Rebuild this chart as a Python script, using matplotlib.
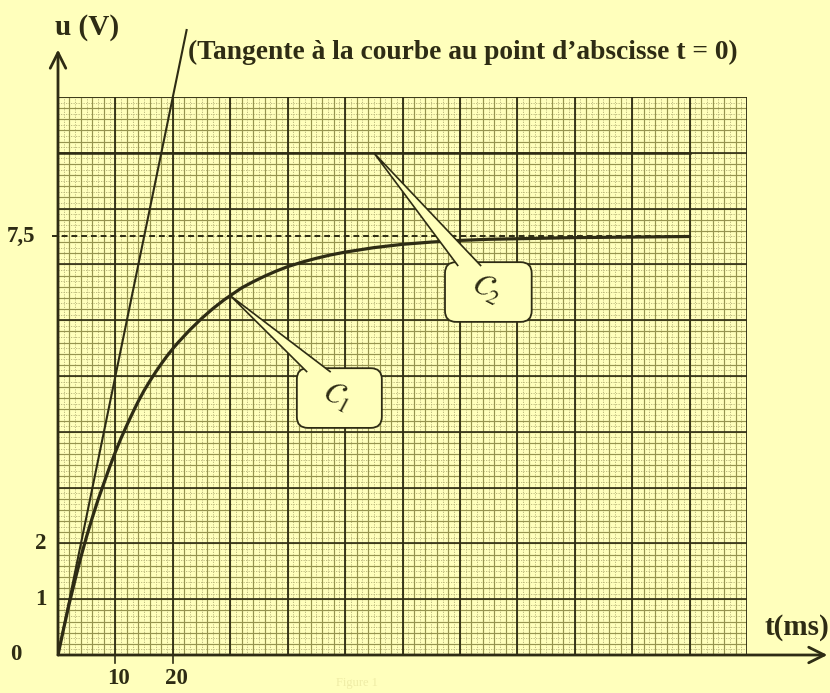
import numpy as np
import matplotlib
matplotlib.use('Agg')
import matplotlib.pyplot as plt
from matplotlib.patches import FancyBboxPatch, Polygon

# couleurs du papier millimétré
fond = '#ffffbc'
encre = '#2e2c14'
trait_fin = '#96944f'
pointille = '#b6b377'

# courbe C1 : t en ms, u en V
t_c1 = [0, 1, 2, 3, 4, 5, 6, 7, 8, 9, 10, 11, 12, 13, 14, 15, 16, 17, 18,
        19, 20, 21, 22, 23, 24, 25, 26, 27, 28, 29, 30, 32, 34, 36, 38, 40,
        42.5, 45, 47.5, 50, 52.5, 55, 57.5, 60, 65, 70, 75, 80, 90, 100, 110]
u_c1 = [0, 0.48, 0.94, 1.36, 1.76, 2.13, 2.47, 2.79, 3.08, 3.37, 3.64, 3.89,
        4.12, 4.34, 4.55, 4.74, 4.91, 5.07, 5.22, 5.36, 5.49, 5.61, 5.72,
        5.83, 5.93, 6.03, 6.12, 6.21, 6.29, 6.37, 6.44, 6.58, 6.69, 6.79,
        6.88, 6.96, 7.04, 7.11, 7.17, 7.22, 7.26, 7.30, 7.33, 7.36, 7.40,
        7.43, 7.45, 7.46, 7.48, 7.49, 7.50]

# droite C2
t_c2 = [0, 110]
u_c2 = [9, 9]

# tangente à l'origine
t_tan = [0, 22.4]
u_tan = [0, 11.2]

# asymptote en pointillés
t_asym = [-1, 110]
u_asym = [7.5, 7.5]

y_ticks = [0, 1, 2, 7.5]
y_labels = ['0', '1', '2', '7,5']
x_ticks = [10, 20]
x_labels = ['10', '20']

fig = plt.figure(figsize=(8.3, 6.93), dpi=100, facecolor=fond)
ax = fig.add_axes([58 / 830, 38 / 693, 689 / 830, 558 / 693])
ax.set_facecolor(fond)
ax.set_xlim(0, 120)
ax.set_ylim(0, 10)

plt.rcParams['mathtext.fontset'] = 'stix'
serif = ['Liberation Serif', 'DejaVu Serif']

# quadrillage : traits pointillés, fins et gros
for t in np.arange(1, 120, 2):
    ax.axvline(t, color=pointille, lw=0.6, ls=(0, (1.5, 1.5)), zorder=1)
for u in np.arange(0.1, 10, 0.2):
    ax.axhline(u, color=pointille, lw=0.6, ls=(0, (1.5, 1.5)), zorder=1)
for t in np.arange(2, 121, 2):
    ax.axvline(t, color=trait_fin, lw=0.85, zorder=1)
for u in np.arange(0.2, 10.01, 0.2):
    ax.axhline(u, color=trait_fin, lw=0.85, zorder=1)
for t in np.arange(10, 121, 10):
    ax.axvline(t, color=encre, lw=1.3, zorder=1)
for u in np.arange(1, 10.01, 1):
    ax.axhline(u, color=encre, lw=1.2, zorder=1)

for s in ax.spines.values():
    s.set_visible(False)

# courbes
ax.plot(t_asym, u_asym, color=encre, lw=1.4, ls=(0, (3, 2)), zorder=3, clip_on=False)
ax.plot(t_c2, u_c2, color=encre, lw=1.8, zorder=3)
ax.plot(t_c1, u_c1, color=encre, lw=2.3, zorder=3, solid_capstyle='round')
ax.plot(t_tan, u_tan, color=encre, lw=1.5, zorder=3, clip_on=False)

# axes avec flèches
ax.annotate('', xy=(134, 0), xytext=(0, 0), annotation_clip=False,
            arrowprops=dict(arrowstyle='->', lw=2.0, color=encre,
                            mutation_scale=28, shrinkA=0, shrinkB=0), zorder=4)
ax.annotate('', xy=(0, 10.85), xytext=(0, 0), annotation_clip=False,
            arrowprops=dict(arrowstyle='->', lw=2.0, color=encre,
                            mutation_scale=28, shrinkA=0, shrinkB=0), zorder=4)

ax.set_xticks([])
ax.set_yticks([])

# graduations
ylab_x = [-7.4, -3.0, -3.0, -6.4]
for u, lab, xx in zip(y_ticks, y_labels, ylab_x):
    ax.text(xx, u, lab, ha='center', va='center', fontsize=16.5,
            fontweight='bold', family=serif, color=encre, clip_on=False)
for t, lab in zip(x_ticks, x_labels):
    ax.plot([t, t], [0, -0.15], color=encre, lw=1.2, clip_on=False)
    ax.text(t + 0.6, -0.43, lab, ha='center', va='center', fontsize=16.5,
            fontweight='bold', family=serif, color=encre, clip_on=False)

ax.text(5.0, 11.25, 'u (V)', ha='center', va='center', fontsize=21,
        fontweight='bold', family=serif, color=encre, clip_on=False)
ax.text(134.3, 0.5, 't(ms)', ha='right', va='center', fontsize=21,
        fontweight='bold', family=serif, color=encre, clip_on=False)
ax.text(22.6, 10.8, '(Tangente à la courbe au point d’abscisse t = 0)',
        ha='left', va='center', fontsize=19.8, fontweight='bold',
        family=serif, color=encre, clip_on=False)
ax.text(52, -0.5, 'Figure 1', ha='center', va='center', fontsize=9,
        family=serif, color='#efeca6', clip_on=False)

# bulles des courbes
p0 = ax.transData.transform((0, 0))
p1 = ax.transData.transform((1, 1))
sx, sy = p1[0] - p0[0], p1[1] - p0[1]


def bulle(box, tip, base, pos, texte):
    x0, x1, y0, y1 = box
    cadre = FancyBboxPatch((x0, y0), x1 - x0, y1 - y0,
                           boxstyle='round,pad=0,rounding_size=%f' % (11 / sx),
                           mutation_aspect=sx / sy, fc=fond, ec=encre,
                           lw=1.3, zorder=5)
    ax.add_patch(cadre)
    pointe = Polygon([base[0], tip, base[1]], closed=False, fc=fond,
                     ec=encre, lw=1.2, zorder=6)
    ax.add_patch(pointe)
    ax.text(pos[0], pos[1], texte, ha='center', va='center', fontsize=22,
            rotation=-28, color=encre, zorder=7)


bulle((67.4, 82.5, 5.97, 7.04), (55, 9), [(69.7, 6.97), (73.7, 6.97)],
      (74.7, 6.55), r'$\mathcal{C}_2$')
bulle((41.6, 56.4, 4.07, 5.14), (30, u_c1[t_c1.index(30)]),
      [(43.4, 5.07), (47.5, 5.07)], (48.6, 4.62), r'$\mathcal{C}_1$')

fig.savefig('out.png', dpi=100, facecolor=fond)
